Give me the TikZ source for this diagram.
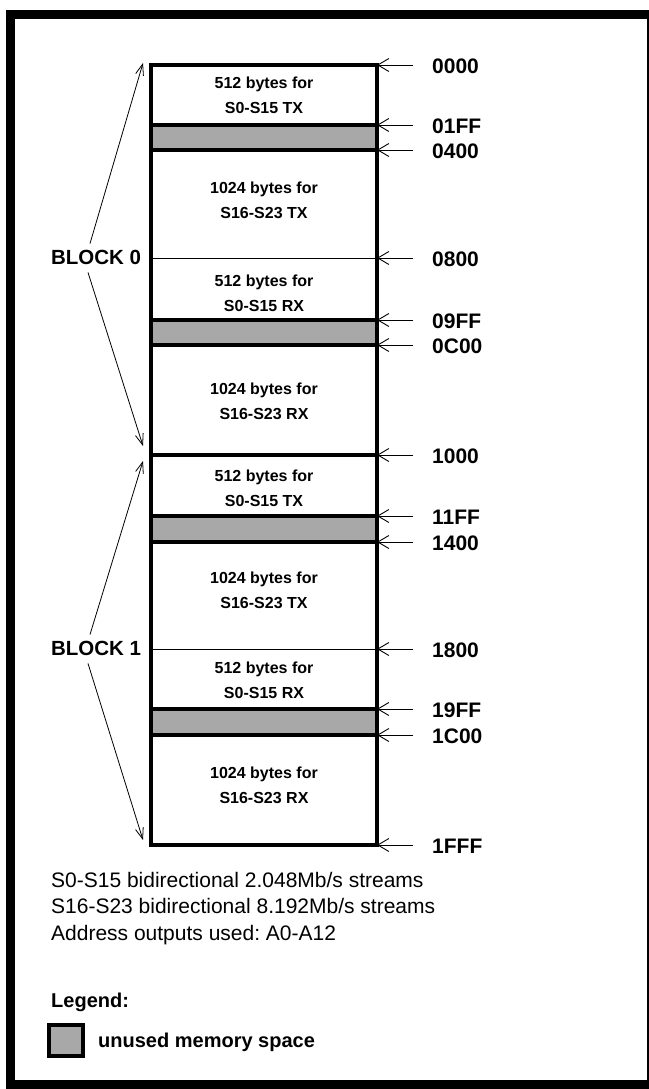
\documentclass[tikz,border=0pt]{standalone}
\usepackage{fontspec}
\setmainfont{Liberation Sans}
\usetikzlibrary{arrows.meta}
\definecolor{unused}{RGB}{168,168,168}
\frenchspacing
\begin{document}
\begin{tikzpicture}[x=1pt,y=-1pt,
  frame/.style={line width=9pt},
  thickline/.style={line width=3.5pt},
  thinline/.style={line width=1pt},
  band/.style={fill=unused,draw=black,line width=3.5pt},
  addrarrow/.style={line width=0.9pt,-{Straight Barb[length=11pt,width=13pt,line width=0.9pt]}},
  blockarrow/.style={line width=0.8pt,-{Straight Barb[length=11pt,width=8pt,line width=0.8pt]}},
  addr/.style={anchor=west,inner sep=0pt,font=\fontsize{21}{24}\selectfont\bfseries},
  seg/.style={inner sep=0pt,align=center,font=\fontsize{16}{25}\selectfont\bfseries},
  blk/.style={inner sep=0pt,font=\fontsize{20.5}{24}\selectfont\bfseries},
  note/.style={anchor=base west,inner sep=0pt,font=\fontsize{21}{24}\selectfont},
  legend/.style={anchor=base west,inner sep=0pt,font=\fontsize{20}{24}\selectfont\bfseries}
]
\useasboundingbox (0,0) rectangle (648,1089);
% outer frame
\draw[frame] (10.5,14.5) rectangle (651,1084.5);

% unused bands
\draw[band] (151,125) rectangle (377,150);
\draw[band] (151,320) rectangle (377,345);
\draw[band] (151,516) rectangle (377,542);
\draw[band] (151,709) rectangle (377,735);

% memory column
\draw[thickline] (151,65) rectangle (377,845);
\draw[thickline] (151,455) -- (377,455);
\draw[thinline] (151,258) -- (377,258);
\draw[thinline] (151,649) -- (377,649);

% segment labels
\node[seg] (s1) at (264,95) {512 bytes for\\S0-S15 TX};
\node[seg] (s2) at (264,200) {1024 bytes for\\S16-S23 TX};
\node[seg] (s3) at (264,293.5) {512 bytes for\\S0-S15 RX};
\node[seg] (s4) at (264,401) {1024 bytes for\\S16-S23 RX};
\node[seg] (s5) at (264,488) {512 bytes for\\S0-S15 TX};
\node[seg] (s6) at (264,590.5) {1024 bytes for\\S16-S23 TX};
\node[seg] (s7) at (264,680.5) {512 bytes for\\S0-S15 RX};
\node[seg] (s8) at (264,785.5) {1024 bytes for\\S16-S23 RX};

% address labels and arrows
\foreach \lab/\yy in {0000/65,01FF/125,0400/150,0800/258,09FF/320,0C00/345,1000/455,11FF/516,1400/542,1800/649,19FF/709,1C00/735,1FFF/845}{
  \node[addr] (a\lab) at (432,\yy+1) {\lab};
  \coordinate (e\lab) at (377,\yy);
  \coordinate (f\lab) at (413,\yy);
  \draw[addrarrow] (f\lab) -- (e\lab);
}

% block labels
\node[blk] (b0) at (96,257) {BLOCK 0};
\node[blk] (b1) at (96,648) {BLOCK 1};
\coordinate (t0a) at (143,63);
\coordinate (t0b) at (143,446);
\coordinate (t1a) at (143,461);
\coordinate (t1b) at (143,840);
\draw[blockarrow] ([xshift=-6pt,yshift=6pt]b0.north) -- (t0a);
\draw[blockarrow] ([xshift=-8pt,yshift=-8pt]b0.south) -- (t0b);
\draw[blockarrow] ([xshift=-6pt,yshift=6pt]b1.north) -- (t1a);
\draw[blockarrow] ([xshift=-8pt,yshift=-8pt]b1.south) -- (t1b);

% notes
\node[note] (n1) at (51,887) {S0-S15 bidirectional 2.048Mb/s streams};
\node[note] (n2) at (51,913) {S16-S23 bidirectional 8.192Mb/s streams};
\node[note] (n3) at (51,940) {Address outputs used: A0-A12};

% legend
\node[legend] (lg) at (51,1007) {Legend:};
\draw[band] (49,1025) rectangle (83,1056);
\node[legend] (lu) at (98,1047) {unused memory space};
\end{tikzpicture}
\end{document}
